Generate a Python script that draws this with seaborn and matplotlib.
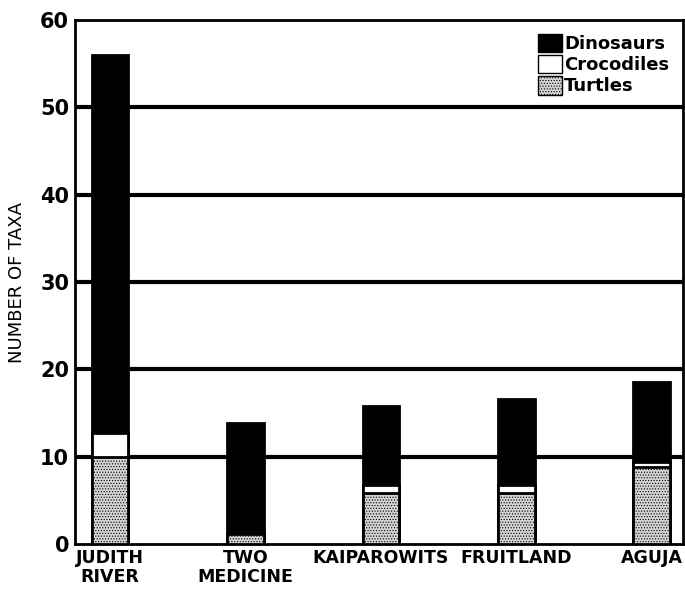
import numpy as np
import pandas as pd
import matplotlib
matplotlib.use('Agg')
import matplotlib.pyplot as plt
import seaborn as sns
from matplotlib.patches import Patch

# values (number of taxa)
formations = ["JUDITH\nRIVER", "TWO\nMEDICINE", "KAIPAROWITS", "FRUITLAND", "AGUJA"]
turtles = [10.0, 1.1, 5.8, 5.8, 8.8]
crocodiles = [2.7, 0.0, 0.9, 0.9, 0.6]
dinosaurs = [43.3, 12.8, 9.1, 9.9, 9.1]

y_ticks = [0, 10, 20, 30, 40, 50, 60]

df = pd.DataFrame({
    'Formation': formations,
    'Turtles': turtles,
    'Crocodiles': crocodiles,
    'Dinosaurs': dinosaurs,
})
df['croc_top'] = df['Turtles'] + df['Crocodiles']
df['total'] = df['croc_top'] + df['Dinosaurs']

sns.set_style("white")
plt.rcParams['font.family'] = ['DejaVu Sans']
plt.rcParams['text.color'] = 'black'
plt.rcParams['axes.labelcolor'] = 'black'
plt.rcParams['xtick.color'] = 'black'
plt.rcParams['ytick.color'] = 'black'
plt.rcParams['hatch.color'] = '#6a6a6a'
plt.rcParams['hatch.linewidth'] = 0.5

turtle_fc = '#d4d4d4'
turtle_hatch = '......'

fig = plt.figure(figsize=(6.85, 5.95), dpi=100)
ax = fig.add_axes([0.109, 0.086, 0.888, 0.880])

w = 0.27
# stacked by overdrawing cumulative totals
sns.barplot(data=df, x='Formation', y='total', color='black', width=w,
            edgecolor='black', linewidth=2, saturation=1, ax=ax, zorder=3)
sns.barplot(data=df, x='Formation', y='croc_top', color='white', width=w,
            edgecolor='black', linewidth=2, saturation=1, ax=ax, zorder=4)
sns.barplot(data=df, x='Formation', y='Turtles', color=turtle_fc, width=w,
            edgecolor='black', linewidth=2, saturation=1, ax=ax, zorder=5)
for p in ax.patches[2 * len(formations):]:
    p.set_hatch(turtle_hatch)
    p.set_edgecolor('black')

ax.set_ylim(0, 60)
ax.set_xlim(-0.26, 4.23)
ax.set_yticks(y_ticks)
ax.set_yticklabels([str(t) for t in y_ticks], fontsize=15, fontweight='bold')
for lbl in ax.get_xticklabels():
    lbl.set_fontsize(12.5)
    lbl.set_fontweight('bold')
    lbl.set_linespacing(1.05)
ax.tick_params(axis='both', length=0, pad=4)
ax.set_xlabel("")
ax.set_ylabel("NUMBER OF TAXA", fontsize=13, labelpad=10)

# heavy horizontal rules behind bars
for t in y_ticks[1:-1]:
    ax.axhline(t, color='black', linewidth=3, zorder=1)

for s in ax.spines.values():
    s.set_visible(True)
    s.set_color('black')
    s.set_linewidth(2)

handles = [
    Patch(facecolor='black', edgecolor='black', label='Dinosaurs'),
    Patch(facecolor='white', edgecolor='black', label='Crocodiles'),
    Patch(facecolor=turtle_fc, edgecolor='black', hatch=turtle_hatch, label='Turtles'),
]
leg = ax.legend(handles=handles, loc='upper right', frameon=False,
                prop={'size': 13, 'weight': 'semibold'},
                handlelength=1.3, handleheight=1.2,
                handletextpad=0.15, labelspacing=0.1,
                bbox_to_anchor=(1.0, 1.0), borderaxespad=0.35)
leg.set_zorder(10)

fig.savefig("out.png", dpi=100)
